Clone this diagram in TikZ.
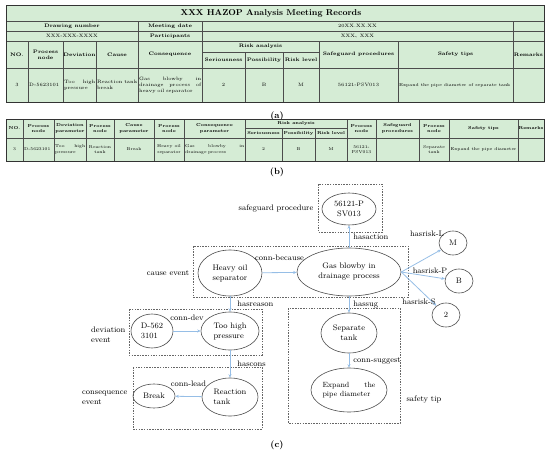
\documentclass[tikz,border=0pt]{standalone}
\usepackage{fontspec}
\newfontfamily\cjk{Noto Sans CJK SC}
\usetikzlibrary{shapes.geometric,arrows.meta}
\hyphenpenalty=10000
\exhyphenpenalty=10000

\definecolor{cellgreen}{RGB}{213,236,213}
\definecolor{linkblue}{RGB}{150,190,230}

\tikzset{
  gridline/.style={draw=black!70, line width=0.5pt},
  frameline/.style={draw=black!80, line width=1pt},
  titletxt/.style={font=\fontsize{8.5}{10}\selectfont\bfseries, inner sep=0pt},
  headA/.style={font=\fontsize{5}{6.2}\selectfont\bfseries, align=center, inner sep=0pt},
  dataA/.style={font=\fontsize{4.8}{6}\selectfont, align=center, inner sep=0pt},
  leftA/.style={font=\fontsize{4.8}{6}\selectfont, align=left, anchor=west, inner sep=0pt},
  headB/.style={font=\fontsize{4.3}{5.3}\selectfont\bfseries, align=center, inner sep=0pt},
  dataB/.style={font=\fontsize{4.2}{5.3}\selectfont, align=center, inner sep=0pt},
  leftB/.style={font=\fontsize{4.2}{5.3}\selectfont, align=left, anchor=west, inner sep=0pt},
  captxt/.style={font=\fontsize{9}{10}\selectfont\bfseries, inner sep=0pt},
  ent/.style={ellipse, draw=black!70, line width=0.6pt, inner sep=0pt, align=center,
    font=\fontsize{8}{10}\selectfont},
  grp/.style={draw=black!60, dash pattern=on 1.5pt off 1.2pt, line width=0.5pt},
  rel/.style={draw=linkblue, line width=0.8pt, -{Stealth[length=3.5pt,width=3pt]}},
  rellbl/.style={font=\fontsize{8}{9}\selectfont, inner sep=0pt, text=black},
  grplbl/.style={font=\fontsize{8}{10}\selectfont, align=left, inner sep=0pt}
}

\begin{document}
\begin{tikzpicture}[x=1pt,y=-1pt]
\useasboundingbox (0,0) rectangle (550,453);

% Tabla (a)
\fill[cellgreen] (6,5) rectangle (544,102);
\foreach \y in {21,31,41,68}
  \draw[gridline] (6,\y) -- (544,\y);
\draw[gridline] (202,52) -- (319,52);
\foreach \x in {138,202,513}
  \draw[gridline] (\x,21) -- (\x,41);
\foreach \x in {28,63,96,138,202,319,398,513}
  \draw[gridline] (\x,41) -- (\x,102);
\foreach \x in {245,283}
  \draw[gridline] (\x,52) -- (\x,102);
\draw[frameline] (6,5) rectangle (544,102);

\node[titletxt] (ta-title) at (271,13) {XXX HAZOP Analysis Meeting Records};
\node[headA] (ta-drawno) at (72,26) {Drawing number};
\node[headA] (ta-date) at (170,26) {Meeting date};
\node[dataA] (ta-dateval) at (357.5,26) {20XX.XX.XX};
\node[dataA] (ta-drawval) at (72,36) {XXX-XXX-XXXX};
\node[headA] (ta-part) at (170,36) {Participants};
\node[dataA] (ta-partval) at (357.5,36) {XXX{\cjk 、}XXX};

\foreach \xa/\xb/\txt [count=\i] in {6/28/{NO.}, 28/63/{Process\\node}, 63/96/{Deviation},
    96/138/{Cause}, 138/202/{Consequence}, 319/398/{Safeguard procedures},
    398/513/{Safety tips}, 513/544/{Remarks}}
  \node[headA] (ta-h\i) at ({(\xa+\xb)/2},54.5) {\txt};
\node[headA] (ta-risk) at (260.5,46.5) {Risk analysis};
\foreach \xa/\xb/\txt [count=\i] in {202/245/{Seriousness}, 245/283/{Possibility}, 283/319/{Risk level}}
  \node[headA] (ta-r\i) at ({(\xa+\xb)/2},60) {\txt};

\foreach \xa/\xb/\txt [count=\i] in {6/28/3, 202/245/2, 245/283/B, 283/319/M, 319/398/{56121-PSV013}}
  \node[dataA] (ta-d\i) at ({(\xa+\xb)/2},85) {\txt};
\node[leftA] (ta-s1) at (29,85) {D-5623101};
\node[leftA, font=\fontsize{4.3}{5.5}\selectfont] (ta-s2) at (399,85) {Expand the pipe diameter of separate tank};
\foreach \xa/\xb/\txt [count=\i, evaluate=\xa as \w using \xb-\xa-2] in {
    63/96/{Too\hfill high\\pressure}, 96/138/{Reaction\hfill tank\\break},
    138/202/{Gas\hfill blowby\hfill in\\drainage\hfill process\hfill of\\heavy oil separator}}
  \node[leftA, text width=\w pt] (ta-l\i) at (\xa+1,85) {\txt};

\node[captxt] (cap-a) at (277,116) {(a)};

% Tabla (b)
\fill[cellgreen] (6,119) rectangle (544,161);
\draw[gridline] (6,138) -- (544,138);
\draw[gridline] (245,128) -- (347,128);
\foreach \x in {23,54,86,114,154,184,245,347,376,419,449,518}
  \draw[gridline] (\x,119) -- (\x,161);
\foreach \x in {282,315}
  \draw[gridline] (\x,128) -- (\x,161);
\draw[frameline] (6,119) rectangle (544,161);

\foreach \xa/\xb/\txt [count=\i] in {6/23/{NO.}, 23/54/{Process\\node}, 54/86/{Deviation\\parameter},
    86/114/{Process\\node}, 114/154/{Cause\\parameter}, 154/184/{Process\\node},
    184/245/{Consequence\\parameter}, 347/376/{Process\\node}, 376/419/{Safeguard\\procedures},
    419/449/{Process\\node}, 449/518/{Safety tips}, 518/544/{Remarks}}
  \node[headB] (tb-h\i) at ({(\xa+\xb)/2},128.5) {\txt};
\node[headB] (tb-risk) at (296,123.5) {Risk analysis};
\foreach \xa/\xb/\txt [count=\i] in {245/282/{Seriousness}, 282/315/{Possibility}, 315/347/{Risk level}}
  \node[headB] (tb-r\i) at ({(\xa+\xb)/2},133) {\txt};

\foreach \xa/\xb/\txt [count=\i] in {6/23/3, 86/114/{Reaction\\tank}, 114/154/{Break},
    154/184/{Heavy oil\\separator}, 245/282/2, 282/315/B, 315/347/M, 347/376/{56121-\\PSV013},
    419/449/{Separate\\tank}, 449/518/{Expand the pipe diameter}}
  \node[dataB] (tb-d\i) at ({(\xa+\xb)/2},149.5) {\txt};
\foreach \xa/\xb/\txt [count=\i, evaluate=\xa as \w using \xb-\xa-2] in {23/54/{D-5623101},
    54/86/{Too\hfill high\\pressure}, 184/245/{Gas\hfill blowby\hfill in\\drainage process}}
  \node[leftB, text width=\w pt] (tb-l\i) at (\xa+1,149.5) {\txt};

\node[captxt] (cap-b) at (277,172) {(b)};

% Grafo (c)
\draw[grp] (318,184) rectangle (382,232);
\draw[grp] (193,246) rectangle (408,297);
\draw[grp] (129,309) rectangle (262,355);
\draw[grp] (133,367) rectangle (262,429);
\draw[grp] (288,308) rectangle (400,423);

\node[grplbl] (lbl-sg) at (276,209) {safeguard procedure};
\node[grplbl] (lbl-cause) at (168,273) {cause event};
\node[grplbl, anchor=west] (lbl-dev) at (91,335) {deviation\\event};
\node[grplbl, anchor=west] (lbl-cons) at (82,398) {consequence\\event};
\node[grplbl] (lbl-tip) at (424,399) {safety tip};

\node[ent, minimum width=54, minimum height=32] (sg) at (349,209) {56121-P\\SV013};
\node[ent, minimum width=64, minimum height=46] (heavy) at (230,273) {Heavy oil\\separator};
\node[ent, minimum width=104, minimum height=48] (gas) at (349,272) {Gas blowby in\\drainage process};
\node[ent, align=left, minimum width=42, minimum height=34] (dev) at (152,331) {D-562\\3101};
\node[ent, align=left, text width=33pt, minimum width=58, minimum height=38] (high) at (230,331) {Too\hfill high\\pressure};
\node[ent, minimum width=42, minimum height=24] (brk) at (154,396) {Break};
\node[ent, align=left, minimum width=56, minimum height=38] (react) at (230,397) {Reaction\\tank};
\node[ent, minimum width=56, minimum height=40] (sep) at (349,333) {Separate\\tank};
\node[ent, align=left, font=\fontsize{7.5}{9.5}\selectfont, text width=53pt, minimum width=76,
  minimum height=44] (exp) at (349,390) {Expand\hfill the\\pipe diameter};
\node[ent, minimum width=28, minimum height=24] (rl) at (453,243) {M};
\node[ent, minimum width=28, minimum height=24] (rp) at (459,281) {B};
\node[ent, minimum width=28, minimum height=24] (rs) at (446,315) {2};

\draw[rel] (gas) -- (sg) node[rellbl, midway, right=4pt] {hasaction};
\draw[rel] (heavy) -- (gas) node[rellbl, midway, above=12pt] {conn-because};
\draw[rel] (heavy) -- (high) node[rellbl, midway, right=7pt] {hasreason};
\draw[rel] (dev) -- (high) node[rellbl, midway, above=10pt] {conn-dev};
\draw[rel] (high) -- (react) node[rellbl, midway, right=7pt] {hascons};
\draw[rel] (react) -- (brk) node[rellbl, midway, above=9pt] {conn-lead};
\draw[rel] (gas) -- (sep) node[rellbl, midway, right=4pt] {hassug};
\draw[rel] (sep) -- (exp) node[rellbl, midway, right=4pt] {conn-suggest};
\draw[rel] (gas.east) -- (rl);
\draw[rel] (gas.east) -- (rp);
\draw[rel] (gas.east) -- (rs);
\node[rellbl] (lbl-rl) at (427,234) {hasrisk-L};
\node[rellbl] (lbl-rp) at (430,271) {hasrisk-P};
\node[rellbl] (lbl-rs) at (419,302) {hasrisk-S};

\node[captxt] (cap-c) at (277,445) {(c)};
\end{tikzpicture}
\end{document}
